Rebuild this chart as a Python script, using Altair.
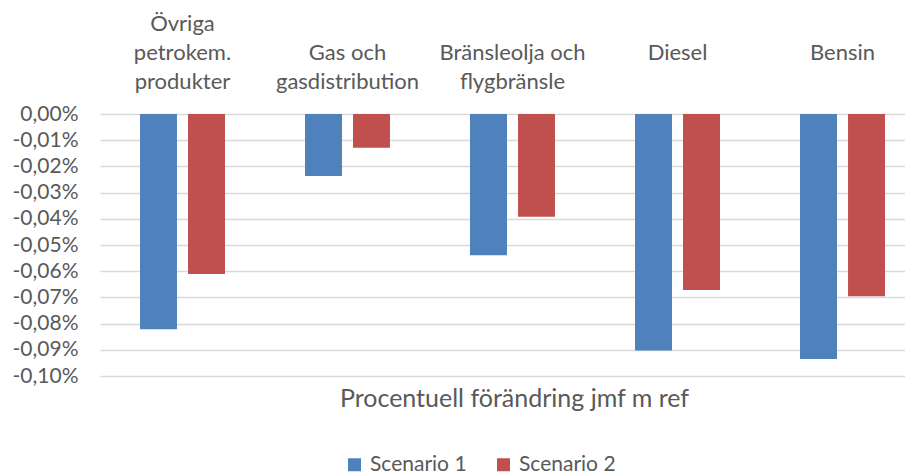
import altair as alt
import pandas as pd

categories = ["Övriga|petrokem.|produkter", "Gas och|gasdistribution",
              "Bränsleolja och|flygbränsle", "Diesel", "Bensin"]
series = ["Scenario 1", "Scenario 2"]
scenario1 = [-0.0822, -0.0237, -0.0539, -0.0903, -0.0935]
scenario2 = [-0.0611, -0.0129, -0.0392, -0.0672, -0.0696]
y_ticks = [0.0, -0.01, -0.02, -0.03, -0.04, -0.05, -0.06, -0.07, -0.08, -0.09, -0.10]
colors = ["#4F81BD", "#C0504D"]
x_title = "Procentuell förändring jmf m ref"

rows = []
for i, c in enumerate(categories):
    rows.append({"cat": c, "scen": series[0], "val": scenario1[i]})
    rows.append({"cat": c, "scen": series[1], "val": scenario2[i]})
df = pd.DataFrame(rows)

FONT = "Lato"
TXT = "#595959"

label_expr = ("length(split(datum.label, '|')) == 3 ? split(datum.label, '|') : "
              "length(split(datum.label, '|')) == 2 ? split('|' + datum.label, '|') : "
              "split('||' + datum.label, '|')")

base = alt.Chart(df)

bars = base.mark_bar().encode(
    x=alt.X("cat:N", sort=categories,
            scale=alt.Scale(range=[0, 825], paddingInner=0.485, paddingOuter=0.2424),
            axis=alt.Axis(orient="top", title=None, ticks=False, domain=False,
                          labelAngle=0, labelExpr=label_expr,
                          labelFontSize=22, labelColor=TXT, labelFont=FONT,
                          labelLineHeight=29, labelPadding=79, labelLimit=300,
                          labelBaseline="bottom")),
    xOffset=alt.XOffset("scen:N", sort=series,
                        scale=alt.Scale(paddingInner=0.23, paddingOuter=0)),
    y=alt.Y("val:Q", scale=alt.Scale(domain=[-0.10, 0], nice=False, zero=True),
            axis=alt.Axis(values=y_ticks, title=None, ticks=False, domain=False,
                          labelExpr="replace(replace(format(datum.value, '.2f'), '.', ','), '\u2212', '-') + '%'",
                          labelFontSize=21, labelColor=TXT, labelFont=FONT,
                          labelPadding=22, gridColor="#D9D9D9", gridWidth=1.5)),
    color=alt.Color("scen:N", sort=series,
                    scale=alt.Scale(domain=series, range=colors),
                    legend=alt.Legend(title=None, orient="none", direction="horizontal",
                                      legendX=244, legendY=340, symbolType="square",
                                      symbolSize=169, symbolStrokeWidth=0,
                                      labelFontSize=21, labelColor=TXT, labelFont=FONT,
                                      labelOffset=5, columnPadding=26, padding=0)),
)

title_axis = base.mark_point(opacity=0).encode(
    x=alt.X("cat:N", sort=categories,
            axis=alt.Axis(orient="bottom", title=x_title, labels=False, ticks=False,
                          domain=False, grid=False, titleX=414, titleY=30,
                          titleAlign="center", titleBaseline="alphabetic",
                          titleFontSize=25, titleFont=FONT, titleColor=TXT,
                          titleFontWeight="normal")),
)

chart = alt.layer(bars, title_axis).resolve_scale(x="independent").resolve_axis(
    x="independent"
).properties(
    width=805, height=262,
    autosize=alt.AutoSizeParams(type="none"),
    padding={"left": 92, "top": 106, "right": 0, "bottom": 100},
).configure_view(stroke=None)

chart.save("out.html", embed_options={"renderer": "svg", "actions": False})
